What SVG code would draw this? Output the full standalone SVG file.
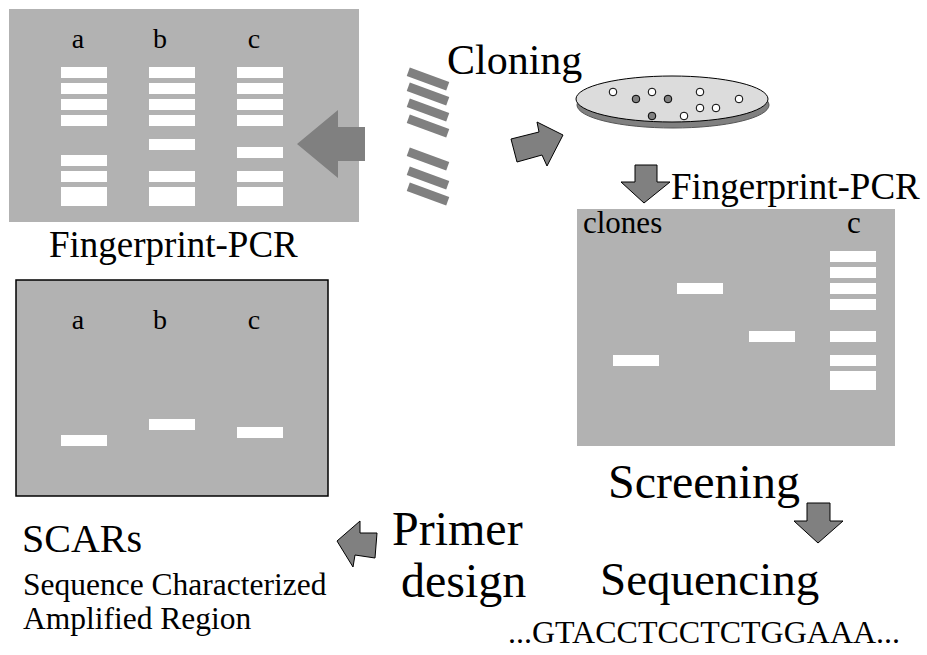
<svg xmlns="http://www.w3.org/2000/svg" width="927" height="655" viewBox="0 0 927 655">
<style>
text{font-family:"Liberation Serif","Times New Roman",serif;fill:#000}
.gel{fill:#b2b2b2}
.band{fill:#fff}
.sband{fill:#808080}
.arr{fill:#808080;stroke:#000;stroke-width:1;stroke-linejoin:miter}
.lbl{font-size:28px;text-anchor:middle}
.open{fill:#fff;stroke:#000;stroke-width:1}
.dark{fill:#808080;stroke:#000;stroke-width:1}
</style>
<rect width="927" height="655" fill="#fff"/>

<g id="gel-fingerprint">
<rect class="gel" x="9" y="9" width="350" height="213"/>
<text class="lbl" x="78" y="48">a</text>
<text class="lbl" x="160" y="48">b</text>
<text class="lbl" x="254" y="48">c</text>
<rect class="band" x="61" y="67" width="46" height="11"/>
<rect class="band" x="61" y="83" width="46" height="11"/>
<rect class="band" x="61" y="99" width="46" height="11"/>
<rect class="band" x="61" y="115" width="46" height="11"/>
<rect class="band" x="61" y="155" width="46" height="11"/>
<rect class="band" x="61" y="171" width="46" height="11"/>
<rect class="band" x="61" y="187" width="46" height="19"/>
<rect class="band" x="149" y="67" width="46" height="11"/>
<rect class="band" x="149" y="83" width="46" height="11"/>
<rect class="band" x="149" y="99" width="46" height="11"/>
<rect class="band" x="149" y="115" width="46" height="11"/>
<rect class="band" x="149" y="139" width="46" height="11"/>
<rect class="band" x="149" y="171" width="46" height="11"/>
<rect class="band" x="149" y="187" width="46" height="19"/>
<rect class="band" x="237" y="67" width="46" height="11"/>
<rect class="band" x="237" y="83" width="46" height="11"/>
<rect class="band" x="237" y="99" width="46" height="11"/>
<rect class="band" x="237" y="115" width="46" height="11"/>
<rect class="band" x="237" y="147" width="46" height="11"/>
<rect class="band" x="237" y="171" width="46" height="11"/>
<rect class="band" x="237" y="187" width="46" height="19"/>
<text x="49" y="257" font-size="37">Fingerprint-PCR</text>
</g>

<g id="excised-bands">
<rect class="sband" x="-21" y="-4.5" width="42" height="9" transform="translate(428 79) rotate(20)"/>
<rect class="sband" x="-21" y="-4.5" width="42" height="9" transform="translate(428 94) rotate(20)"/>
<rect class="sband" x="-21" y="-4.5" width="42" height="9" transform="translate(428 110) rotate(20)"/>
<rect class="sband" x="-21" y="-4.5" width="42" height="9" transform="translate(428 126) rotate(20)"/>
<rect class="sband" x="-21" y="-4.5" width="42" height="9" transform="translate(428 159) rotate(20)"/>
<rect class="sband" x="-21" y="-4.5" width="42" height="9" transform="translate(428 178) rotate(20)"/>
<rect class="sband" x="-21" y="-4.5" width="42" height="9" transform="translate(428 194) rotate(20)"/>
</g>

<g id="cloning">
<text x="447" y="74" font-size="42">Cloning</text>
<ellipse cx="673" cy="105" rx="96" ry="23" fill="#808080" stroke="#555" stroke-width="1"/>
<ellipse cx="672" cy="99" rx="96" ry="23" fill="#dcdcdc" stroke="#000" stroke-width="1"/>
<circle class="open" cx="613" cy="92" r="3.8"/>
<circle class="dark" cx="636" cy="99" r="3.8"/>
<circle class="open" cx="652" cy="92" r="3.8"/>
<circle class="dark" cx="668" cy="99" r="3.8"/>
<circle class="dark" cx="652" cy="116" r="3.8"/>
<circle class="open" cx="684" cy="116" r="3.8"/>
<circle class="open" cx="700" cy="92" r="3.8"/>
<circle class="open" cx="700" cy="108" r="3.8"/>
<circle class="open" cx="716" cy="108" r="3.8"/>
<circle class="open" cx="739" cy="99" r="3.8"/>
</g>

<g id="gel-clones">
<text x="671" y="199" font-size="37">Fingerprint-PCR</text>
<rect class="gel" x="577" y="209" width="318" height="237"/>
<text x="583" y="233" font-size="31">clones</text>
<text x="854" y="233" font-size="31" text-anchor="middle">c</text>
<rect class="band" x="613" y="355" width="46" height="11"/>
<rect class="band" x="677" y="283" width="46" height="11"/>
<rect class="band" x="749" y="331" width="46" height="11"/>
<rect class="band" x="830" y="251" width="46" height="11"/>
<rect class="band" x="830" y="267" width="46" height="11"/>
<rect class="band" x="830" y="283" width="46" height="11"/>
<rect class="band" x="830" y="299" width="46" height="11"/>
<rect class="band" x="830" y="331" width="46" height="11"/>
<rect class="band" x="830" y="355" width="46" height="11"/>
<rect class="band" x="830" y="371" width="46" height="19"/>
</g>

<g id="gel-scars">
<rect class="gel" x="16" y="280" width="312" height="216" stroke="#000" stroke-width="1.5"/>
<text class="lbl" x="78" y="329">a</text>
<text class="lbl" x="160" y="329">b</text>
<text class="lbl" x="254" y="329">c</text>
<rect class="band" x="61" y="435" width="46" height="11"/>
<rect class="band" x="149" y="419" width="46" height="11"/>
<rect class="band" x="237" y="427" width="46" height="11"/>
</g>

<g id="screening">
<text x="608" y="498" font-size="48">Screening</text>
</g>
<g id="sequencing">
<text x="600" y="595" font-size="47">Sequencing</text>
<text x="508" y="643" font-size="32">...GTACCTCCTCTGGAAA...</text>
</g>
<g id="primer-design">
<text x="392" y="545" font-size="48">Primer</text>
<text x="401" y="597" font-size="48">design</text>
</g>
<g id="scars">
<text x="22" y="552" font-size="40">SCARs</text>
<text x="23" y="595" font-size="31.5">Sequence Characterized</text>
<text x="23" y="629" font-size="31.5">Amplified Region</text>
</g>

<g id="connectors">
<polygon points="297,144 338,110 338,127 365,127 365,161 338,161 338,178" fill="#808080"/>
<polygon class="arr" points="511,139 539,132 537,122 563,135 547,166 542,155 517,162"/>
<polygon class="arr" points="635,165 657,165 657,182 670,182 644,203 621,182 635,182"/>
<polygon class="arr" points="807,503 830,503 830,521 843,521 818,543 794,521 807,521"/>
<polygon class="arr" points="337,541 360,521 360,533 377,533 375,558 355,555 353,567"/>
</g>
</svg>
